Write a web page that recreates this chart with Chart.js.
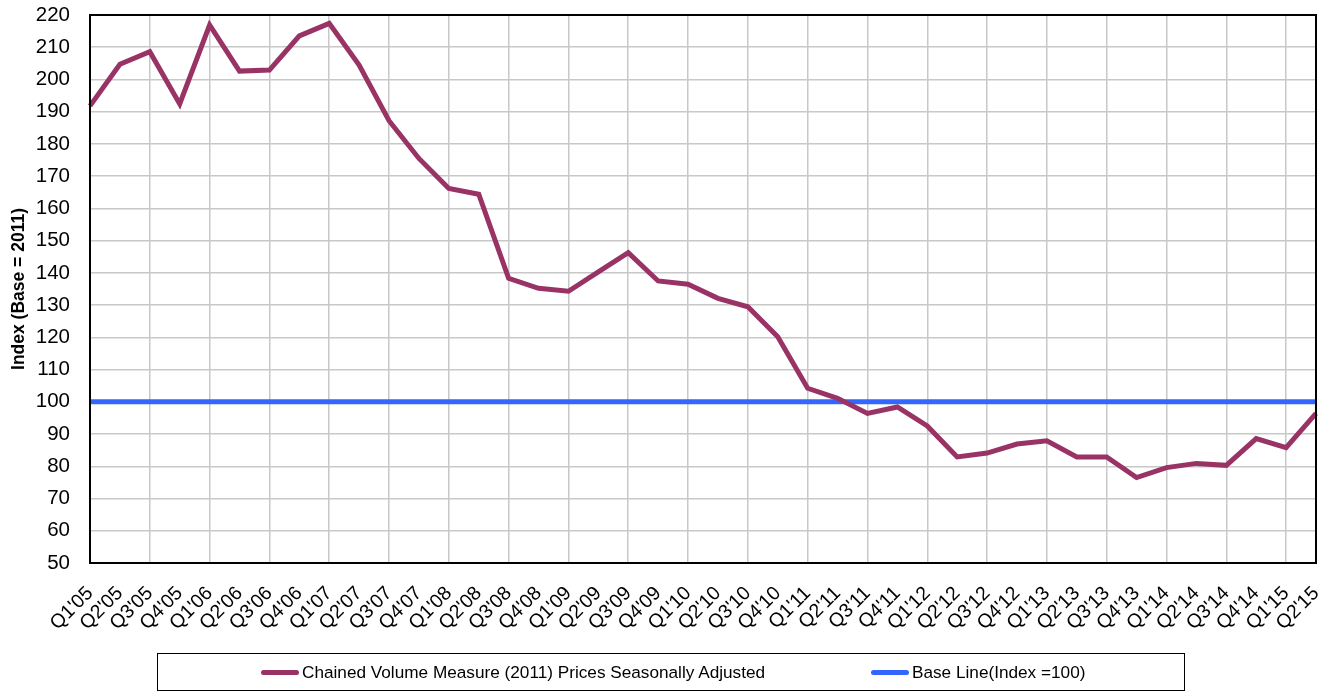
<!DOCTYPE html>
<html>
<head>
<meta charset="utf-8">
<script src="https://cdn.jsdelivr.net/npm/chart.js@4.4.1/dist/chart.umd.min.js"></script>
<style>
  html, body { margin: 0; padding: 0; background: #fff; }
  #wrap { position: relative; width: 1330px; height: 692px; font-family: "Liberation Sans", Arial, sans-serif; }
  #chart { position: absolute; left: 0; top: 0; }
  #legend {
    position: absolute; left: 157px; top: 653px; width: 1026px; height: 36px;
    border: 1px solid #000; box-sizing: content-box; font-size: 17.2px; color: #000;
  }
  .item { position: absolute; top: 0; height: 36px; display: flex; align-items: center; white-space: nowrap; }
  .swatch { display: inline-block; width: 38px; height: 5px; border-radius: 3px; margin-right: 3px; }
</style>
</head>
<body>
<div id="wrap">
  <canvas id="chart" width="1330" height="692"></canvas>
  <div id="legend"></div>
</div>
<script>
const quarters = [
  "Q1'05", "Q2'05", "Q3'05", "Q4'05", "Q1'06", "Q2'06", "Q3'06", "Q4'06",
  "Q1'07", "Q2'07", "Q3'07", "Q4'07", "Q1'08", "Q2'08", "Q3'08", "Q4'08",
  "Q1'09", "Q2'09", "Q3'09", "Q4'09", "Q1'10", "Q2'10", "Q3'10", "Q4'10",
  "Q1'11", "Q2'11", "Q3'11", "Q4'11", "Q1'12", "Q2'12", "Q3'12", "Q4'12",
  "Q1'13", "Q2'13", "Q3'13", "Q4'13", "Q1'14", "Q2'14", "Q3'14", "Q4'14",
  "Q1'15", "Q2'15"
];

const chainedVolume = [
  191.8, 204.7, 208.6, 192.4, 216.9, 202.6, 202.9, 213.5,
  217.4, 204.5, 187.2, 175.5, 166.2, 164.4, 138.3, 135.2,
  134.3, 140.3, 146.3, 137.5, 136.5, 132.1, 129.5, 120.2,
  104.2, 101.1, 96.4, 98.4, 92.5, 82.9, 84.1, 86.9,
  87.9, 82.9, 82.9, 76.5, 79.6, 80.9, 80.3, 88.6,
  85.8, 96.4
];

const baseLine = [
  100, 100, 100, 100, 100, 100, 100, 100, 100, 100, 100, 100, 100, 100,
  100, 100, 100, 100, 100, 100, 100, 100, 100, 100, 100, 100, 100, 100,
  100, 100, 100, 100, 100, 100, 100, 100, 100, 100, 100, 100, 100, 100
];

const seriesNames = [
  'Chained Volume Measure (2011) Prices Seasonally Adjusted',
  'Base Line(Index =100)'
];

const purple = '#993366';
const blue = '#3366ff';
const gridColor = '#c8c8c8';
const fontFamily = '"Liberation Sans", Arial, sans-serif';

// frame round the plot area
const framePlugin = {
  id: 'frame',
  afterDraw(chart) {
    const a = chart.chartArea;
    const ctx = chart.ctx;
    ctx.save();
    ctx.strokeStyle = '#000';
    ctx.lineWidth = 2;
    ctx.strokeRect(a.left, a.top, a.right - a.left, a.bottom - a.top);
    ctx.restore();
  }
};

function noPadding(scale) {
  scale.paddingTop = 0;
  scale.paddingBottom = 0;
  scale.paddingLeft = 0;
  scale.paddingRight = 0;
}

const legend = document.getElementById('legend');
[[seriesNames[0], purple, 103], [seriesNames[1], blue, 713]].forEach(([name, color, left]) => {
  const item = document.createElement('div');
  item.className = 'item';
  item.style.left = left + 'px';
  const sw = document.createElement('span');
  sw.className = 'swatch';
  sw.style.background = color;
  const txt = document.createElement('span');
  txt.textContent = name;
  item.appendChild(sw);
  item.appendChild(txt);
  legend.appendChild(item);
});

new Chart(document.getElementById('chart'), {
  type: 'line',
  data: {
    labels: quarters,
    datasets: [
      {
        label: seriesNames[0],
        data: chainedVolume,
        borderColor: purple,
        backgroundColor: purple,
        borderWidth: 5,
        pointRadius: 0,
        tension: 0,
      },
      {
        label: seriesNames[1],
        data: baseLine,
        borderColor: blue,
        backgroundColor: blue,
        borderWidth: 5,
        pointRadius: 0,
        tension: 0,
      },
    ],
  },
  options: {
    responsive: false,
    animation: false,
    layout: { padding: { top: 15, right: 14, left: 0, bottom: 0 } },
    plugins: { legend: { display: false }, tooltip: { enabled: false } },
    scales: {
      x: {
        offset: false,
        grid: {
          color: ctx => (ctx.index % 2 === 0 ? gridColor : 'rgba(0,0,0,0)'),
          lineWidth: 1.5,
          drawTicks: false,
        },
        border: { display: false },
        ticks: {
          autoSkip: false,
          maxRotation: 45,
          minRotation: 45,
          padding: 19,
          color: '#000',
          font: { family: fontFamily, size: 19.5 },
        },
        afterFit(scale) { scale.height = 129; noPadding(scale); },
      },
      y: {
        min: 50,
        max: 220,
        grid: { color: gridColor, lineWidth: 1.5, drawTicks: false },
        border: { display: false },
        ticks: {
          stepSize: 10,
          padding: 20,
          color: '#000',
          font: { family: fontFamily, size: 20.5 },
        },
        title: {
          display: true,
          text: 'Index (Base = 2011)',
          color: '#000',
          font: { family: fontFamily, size: 17.5, weight: 'bold' },
          padding: { top: 9, bottom: 0 },
        },
        afterFit(scale) { scale.width = 90; noPadding(scale); },
      },
    },
  },
  plugins: [framePlugin],
});
</script>
</body>
</html>
